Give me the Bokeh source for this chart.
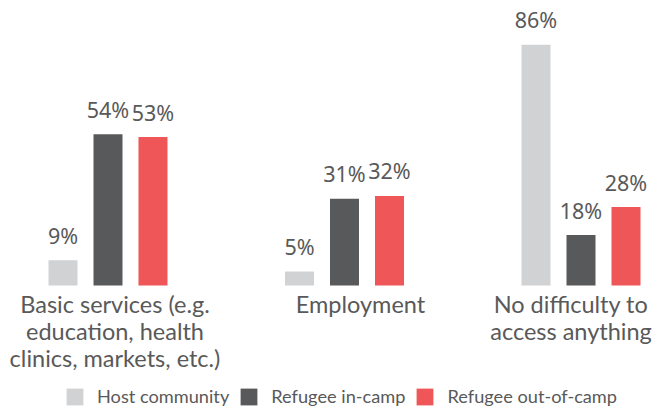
from bokeh.plotting import figure
from bokeh.models import ColumnDataSource, Range1d, Legend, LegendItem
from bokeh.core.properties import value
from bokeh.embed import file_html
from bokeh.resources import INLINE

# ---- data ----
categories = [
    "Basic services (e.g.\neducation, health\nclinics, markets, etc.)",
    "Employment",
    "No difficulty to\naccess anything",
]
series = ["Host community", "Refugee in-camp", "Refugee out-of-camp"]
host_community = [9, 5, 86]
refugee_in_camp = [54, 31, 18]
refugee_out_of_camp = [53, 32, 28]

# ---- style ----
colors = ["#D1D2D4", "#58595B", "#EF5658"]
FONT = "Noto Sans"
CAT_FONT = "Lato"
TEXT_COLOR = "#595959"
W, H = 656, 412
X0, X1 = -0.4545, 2.3192
Y0, Y1 = -45.36, 101.79
PX_X = W / (X1 - X0)
PX_Y = H / (Y1 - Y0)
DODGE = 45 / PX_X
BAR_W = 29 / PX_X
LABEL_GAP = 25
CAT_FIRST = 18.7
CAT_LINE = 26.7
CAT_DX = [7, 16, -10]

p = figure(width=W, height=H, output_backend="svg", toolbar_location=None,
           x_range=Range1d(X0, X1), y_range=Range1d(Y0, Y1),
           x_axis_location=None, y_axis_location=None, min_border=0)
p.grid.visible = False
p.outline_line_color = None
p.background_fill_color = "white"

idx = list(range(len(categories)))
items = []
for k, (name, vals, col) in enumerate(zip(series, [host_community, refugee_in_camp, refugee_out_of_camp], colors)):
    xs = [i + (k - 1) * DODGE for i in idx]
    src = ColumnDataSource(dict(x=xs, top=vals, lab=[f"{v}%" for v in vals]))
    r = p.vbar(x="x", top="top", bottom=0, width=BAR_W, fill_color=col, line_color=None, source=src)
    p.text(x="x", y="top", text="lab", source=src, text_align="center",
           text_baseline="alphabetic", y_offset=-LABEL_GAP,
           text_font=value(FONT), text_font_size="21.5px", text_color=TEXT_COLOR)
    items.append(LegendItem(label=name, renderers=[r]))

# category labels (each line separately)
lx, ly, lt = [], [], []
for i, cat in enumerate(categories):
    for j, line in enumerate(cat.split("\n")):
        lx.append(i + CAT_DX[i] / PX_X)
        ly.append(-(CAT_FIRST + j * CAT_LINE) / PX_Y)
        lt.append(line)
p.text(x=lx, y=ly, text=lt, text_align="center", text_baseline="alphabetic",
       text_font=value(CAT_FONT), text_font_size="23.5px", text_color=TEXT_COLOR)

legend = Legend(items=items, orientation="horizontal", location=(64, 5),
                padding=0, margin=0, border_line_color=None, background_fill_alpha=0,
                glyph_width=21, glyph_height=21, label_height=21,
                label_standoff=12, spacing=9,
                label_text_font=CAT_FONT, label_text_font_size="18.2px",
                label_text_color=TEXT_COLOR)
p.add_layout(legend, "center")

open("out.html", "w").write(file_html(p, INLINE))
